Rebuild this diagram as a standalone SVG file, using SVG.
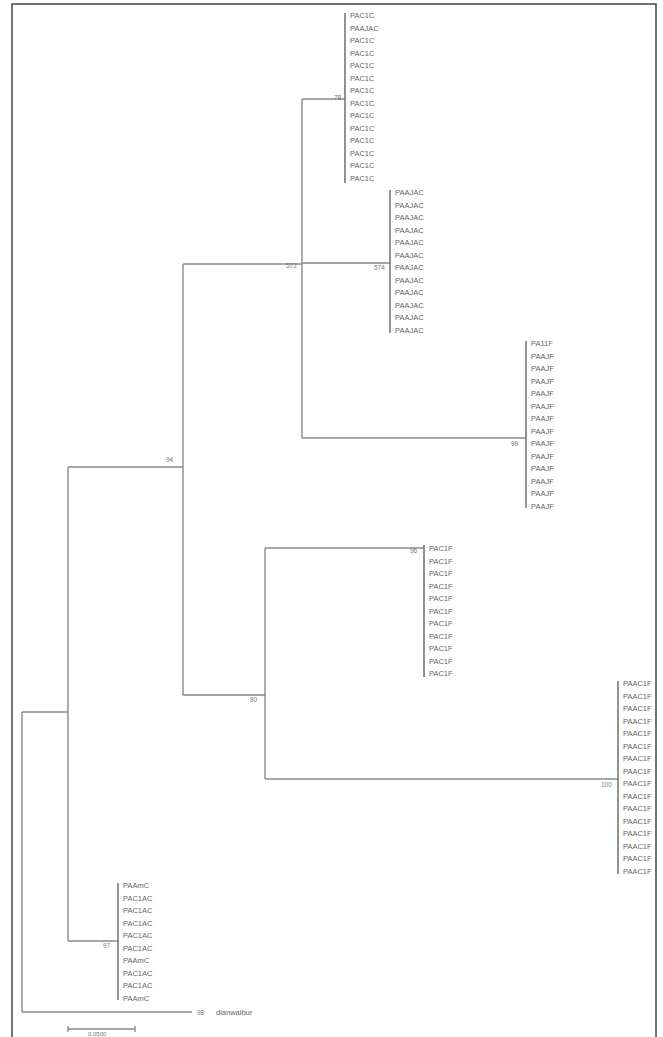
<svg xmlns="http://www.w3.org/2000/svg" width="663" height="1037" viewBox="0 0 663 1037">
<style>
.frame{stroke:#444;stroke-width:1.5;fill:none}
.br{stroke:#8a8a8a;stroke-width:1.4;fill:none}
.cl{stroke:#777;stroke-width:1.6;fill:none}
.lb{font-family:"Liberation Sans",Arial,sans-serif;font-size:7.5px;fill:#666}
.nd{font-family:"Liberation Sans",Arial,sans-serif;font-size:6.5px;fill:#777}
.sc{font-family:"Liberation Sans",Arial,sans-serif;font-size:6px;fill:#777}
</style>
<rect width="663" height="1037" fill="#fff"/>
<g id="frame">
<path class="frame" d="M12,1037 V4 H656 V1037"/>
</g>
<g id="connectors">
<path class="br" d="M22,712 V1012 M22,712 H68 M22,1012 H192"/>
<path class="br" d="M68,467 V941 M68,467 H183 M68,941 H118"/>
<path class="br" d="M183,264 V695 M183,264 H302 M183,695 H265"/>
<path class="br" d="M302,99 V438 M302,99 H345 M302,263 H390 M302,438 H526"/>
<path class="br" d="M265,548 V779 M265,548 H424 M265,779 H618"/>
<path class="br" d="M68,1029 H135 M68,1026 V1032 M135,1026 V1032"/>
</g>
<g id="cluster1">
<path class="cl" d="M345,13 V183"/>
<text class="lb" x="350" y="18">PAC1C</text><text class="lb" x="350" y="30.5">PAAJAC</text><text class="lb" x="350" y="43">PAC1C</text><text class="lb" x="350" y="55.5">PAC1C</text><text class="lb" x="350" y="68">PAC1C</text><text class="lb" x="350" y="80.5">PAC1C</text><text class="lb" x="350" y="93">PAC1C</text><text class="lb" x="350" y="105.5">PAC1C</text><text class="lb" x="350" y="118">PAC1C</text><text class="lb" x="350" y="130.5">PAC1C</text><text class="lb" x="350" y="143">PAC1C</text><text class="lb" x="350" y="155.5">PAC1C</text><text class="lb" x="350" y="168">PAC1C</text><text class="lb" x="350" y="180.5">PAC1C</text>
</g>
<g id="cluster2">
<path class="cl" d="M390,190 V333"/>
<text class="lb" x="395" y="195">PAAJAC</text><text class="lb" x="395" y="207.5">PAAJAC</text><text class="lb" x="395" y="220">PAAJAC</text><text class="lb" x="395" y="232.5">PAAJAC</text><text class="lb" x="395" y="245">PAAJAC</text><text class="lb" x="395" y="257.5">PAAJAC</text><text class="lb" x="395" y="270">PAAJAC</text><text class="lb" x="395" y="282.5">PAAJAC</text><text class="lb" x="395" y="295">PAAJAC</text><text class="lb" x="395" y="307.5">PAAJAC</text><text class="lb" x="395" y="320">PAAJAC</text><text class="lb" x="395" y="332.5">PAAJAC</text>
</g>
<g id="cluster3">
<path class="cl" d="M526,341 V508"/>
<text class="lb" x="531" y="346">PA11F</text><text class="lb" x="531" y="358.5">PAAJF</text><text class="lb" x="531" y="371">PAAJF</text><text class="lb" x="531" y="383.5">PAAJF</text><text class="lb" x="531" y="396">PAAJF</text><text class="lb" x="531" y="408.5">PAAJF</text><text class="lb" x="531" y="421">PAAJF</text><text class="lb" x="531" y="433.5">PAAJF</text><text class="lb" x="531" y="446">PAAJF</text><text class="lb" x="531" y="458.5">PAAJF</text><text class="lb" x="531" y="471">PAAJF</text><text class="lb" x="531" y="483.5">PAAJF</text><text class="lb" x="531" y="496">PAAJF</text><text class="lb" x="531" y="508.5">PAAJF</text>
</g>
<g id="cluster4">
<path class="cl" d="M424,545 V677"/>
<text class="lb" x="429" y="551">PAC1F</text><text class="lb" x="429" y="563.5">PAC1F</text><text class="lb" x="429" y="576">PAC1F</text><text class="lb" x="429" y="588.5">PAC1F</text><text class="lb" x="429" y="601">PAC1F</text><text class="lb" x="429" y="613.5">PAC1F</text><text class="lb" x="429" y="626">PAC1F</text><text class="lb" x="429" y="638.5">PAC1F</text><text class="lb" x="429" y="651">PAC1F</text><text class="lb" x="429" y="663.5">PAC1F</text><text class="lb" x="429" y="676">PAC1F</text>
</g>
<g id="cluster5">
<path class="cl" d="M618,681 V874"/>
<text class="lb" x="623" y="686">PAAC1F</text><text class="lb" x="623" y="698.5">PAAC1F</text><text class="lb" x="623" y="711">PAAC1F</text><text class="lb" x="623" y="723.5">PAAC1F</text><text class="lb" x="623" y="736">PAAC1F</text><text class="lb" x="623" y="748.5">PAAC1F</text><text class="lb" x="623" y="761">PAAC1F</text><text class="lb" x="623" y="773.5">PAAC1F</text><text class="lb" x="623" y="786">PAAC1F</text><text class="lb" x="623" y="798.5">PAAC1F</text><text class="lb" x="623" y="811">PAAC1F</text><text class="lb" x="623" y="823.5">PAAC1F</text><text class="lb" x="623" y="836">PAAC1F</text><text class="lb" x="623" y="848.5">PAAC1F</text><text class="lb" x="623" y="861">PAAC1F</text><text class="lb" x="623" y="873.5">PAAC1F</text>
</g>
<g id="cluster6">
<path class="cl" d="M118,883 V1000"/>
<text class="lb" x="123" y="888">PAAmC</text><text class="lb" x="123" y="900.5">PAC1AC</text><text class="lb" x="123" y="913">PAC1AC</text><text class="lb" x="123" y="925.5">PAC1AC</text><text class="lb" x="123" y="938">PAC1AC</text><text class="lb" x="123" y="950.5">PAC1AC</text><text class="lb" x="123" y="963">PAAmC</text><text class="lb" x="123" y="975.5">PAC1AC</text><text class="lb" x="123" y="988">PAC1AC</text><text class="lb" x="123" y="1000.5">PAAmC</text>
</g>
<g id="outgroup">
<text class="nd" x="197" y="1015">98</text>
<text class="lb" x="216" y="1015">dianwaibur</text>
</g>
<g id="nodelabels">
<text class="nd" x="334" y="100">78</text>
<text class="nd" x="286" y="268">572</text>
<text class="nd" x="374" y="270">574</text>
<text class="nd" x="511" y="446">99</text>
<text class="nd" x="166" y="462">94</text>
<text class="nd" x="410" y="553">96</text>
<text class="nd" x="250" y="702">80</text>
<text class="nd" x="601" y="787">100</text>
<text class="nd" x="103" y="948">97</text>
</g>
<g id="scale">
<text class="sc" x="88" y="1036">0.0500</text>
</g>
</svg>
